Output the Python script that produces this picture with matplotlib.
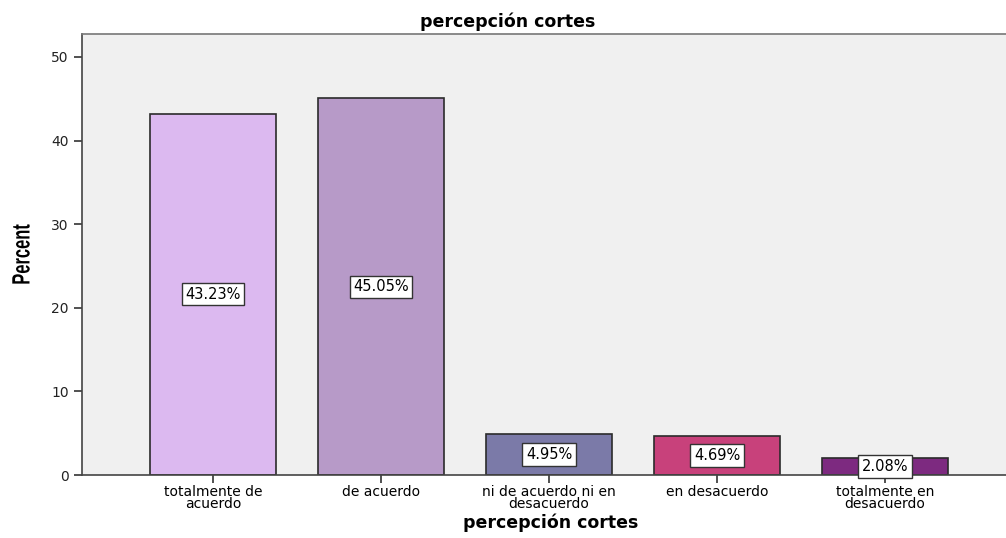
import numpy as np
import matplotlib.pyplot as plt
from matplotlib.textpath import TextPath
from matplotlib.patches import PathPatch
from matplotlib.font_manager import FontProperties
from matplotlib.transforms import Affine2D, IdentityTransform

categories = ['totalmente de\nacuerdo', 'de acuerdo', 'ni de acuerdo ni en\ndesacuerdo',
              'en desacuerdo', 'totalmente en\ndesacuerdo']
percents = [43.23, 45.05, 4.95, 4.69, 2.08]
colors = ['#dcb9f0', '#b79ac8', '#7b7aa8', '#c8417b', '#7d2a80']

fig = plt.figure(figsize=(10.06, 5.38), dpi=100)
ax = fig.add_axes([0.0815, 0.117, 0.9185, 0.82])
ax.set_facecolor('#f0f0f0')

x = np.arange(len(categories))
ax.bar(x, percents, width=0.755, color=colors, edgecolor='#2b2b2b', linewidth=1.2, zorder=2)

for xi, p in zip(x, percents):
    ax.text(xi, p / 2, f'{p:.2f}%', ha='center', va='center', fontsize=10.5,
            family='DejaVu Sans', zorder=3,
            bbox=dict(boxstyle='square,pad=0.25', facecolor='white', edgecolor='#333333', linewidth=1))

ax.set_xlim(-0.78, 4.72)
ax.set_ylim(0, 52.75)
ax.set_yticks([0, 10, 20, 30, 40, 50])
ax.set_xticks(x)
ax.set_xticklabels(categories, fontsize=10, family='DejaVu Sans', linespacing=0.8)
ax.tick_params(axis='y', labelsize=10, length=6, width=1.2, color='#333333', labelcolor='#222222')
ax.tick_params(axis='x', length=6, width=1.2, color='#333333', pad=1)

ax.spines['right'].set_visible(False)
for s in ['left', 'top', 'bottom']:
    ax.spines[s].set_linewidth(1.2)
    ax.spines[s].set_color('#444444')
ax.spines['top'].set_color('#777777')

ax.set_xlabel('percepción cortes', fontsize=12.5, fontweight='bold')
ax.xaxis.set_label_coords(0.507, -0.088)
ax.set_title('percepción cortes', fontsize=12.5, fontweight='bold', x=0.461, pad=5)

# condensed bold "Percent" y label, drawn as a squeezed text path
tp = TextPath((0, 0), 'Percent', size=25, prop=FontProperties(family='Liberation Sans', weight='bold'))
bb = tp.get_extents()
tr = (Affine2D().translate(-(bb.x0 + bb.x1) / 2, -(bb.y0 + bb.y1) / 2)
      .scale(0.66, 1).rotate_deg(90).translate(21, 538 - 254))
fig.patches.append(PathPatch(tp, transform=tr + IdentityTransform(), color='black', lw=0))

fig.savefig('out.png', dpi=100)
